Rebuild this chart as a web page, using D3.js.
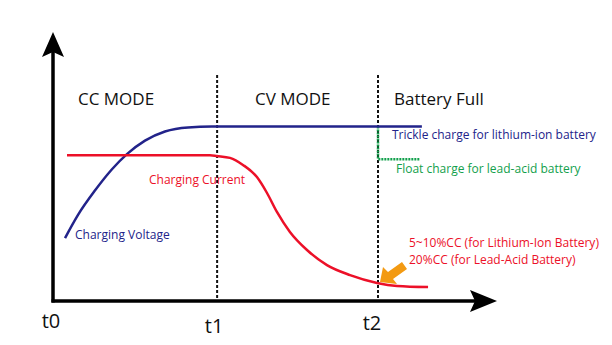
<!DOCTYPE html>
<html>
<head>
<meta charset="utf-8">
<script src="https://cdn.jsdelivr.net/npm/d3@7"></script>
<style>
  html, body { margin: 0; padding: 0; background: #fff; }
  svg { display: block; font-family: "Open Sans", "Noto Sans", sans-serif; }
</style>
</head>
<body>
<svg id="chart" width="612" height="345"></svg>
<script>
// Charging profile: time in arbitrary units (t1 ≈ 10, t2 = 20), level in % of full scale
const phaseTimes = [0, 10.1, 20];
const phaseTickLabels = ["t0", "t1", "t2"];
const modeLabels = ["CC MODE", "CV MODE", "Battery Full"];

const voltageTime  = [0.74, 1.54, 2.58, 3.63, 4.55, 5.66, 6.89, 8.31, 9.78, 12, 16, 20, 22.7];
const voltageLevel = [23.3, 31.9, 40.9, 48.8, 54.4, 59.4, 62.8, 64.3, 64.6, 64.6, 64.6, 64.6, 64.6];

const currentTime  = [0.86, 5, 9.66, 10.09, 10.89, 11.69, 12.55, 13.17, 13.78, 14.58, 15.63, 16.86, 18.28, 19.94, 21.17, 23.08];
const currentLevel = [54.0, 54.0, 54.0, 53.7, 53.0, 50.4, 45.9, 40.0, 33.0, 25.6, 18.9, 13.3, 9.6, 6.7, 5.6, 5.2];

const floatTime  = [20, 20, 22.6];
const floatLevel = [64.6, 52.5, 52.5];

const svg = d3.select("#chart");
const x = d3.scaleLinear().domain([0, 20]).range([53, 378]);
const y = d3.scaleLinear().domain([0, 100]).range([301, 31]);

const BLUE = "#22238a", RED = "#ec1028", GREEN = "#12a04c", ORANGE = "#f39a12";

// phase boundaries (dotted verticals)
svg.selectAll("line.phase")
  .data(phaseTimes.slice(1))
  .join("line")
  .attr("class", "phase")
  .attr("x1", d => x(d)).attr("x2", d => x(d))
  .attr("y1", 75).attr("y2", y(0))
  .attr("stroke", "#111").attr("stroke-width", 2)
  .attr("stroke-dasharray", "3,2");

// float charge step (green dotted)
svg.append("path")
  .datum(floatTime.map((t, i) => [t, floatLevel[i]]))
  .attr("d", d3.line().x(d => x(d[0])).y(d => y(d[1])))
  .attr("fill", "none").attr("stroke", GREEN).attr("stroke-width", 2.5)
  .attr("stroke-dasharray", "2,1");

// charging voltage
svg.append("path")
  .datum(voltageTime.map((t, i) => [t, voltageLevel[i]]))
  .attr("d", d3.line().x(d => x(d[0])).y(d => y(d[1])).curve(d3.curveMonotoneX))
  .attr("fill", "none").attr("stroke", BLUE).attr("stroke-width", 2.5);

// charging current
svg.append("path")
  .datum(currentTime.map((t, i) => [t, currentLevel[i]]))
  .attr("d", d3.line().x(d => x(d[0])).y(d => y(d[1])).curve(d3.curveMonotoneX))
  .attr("fill", "none").attr("stroke", RED).attr("stroke-width", 2.5);

// axes with arrowheads
const ax = svg.append("g");
ax.append("line").attr("x1", x(0)).attr("x2", x(0)).attr("y1", y(0) + 1.5).attr("y2", 50)
  .attr("stroke", "#000").attr("stroke-width", 3.5);
ax.append("line").attr("x1", x(0) - 1.5).attr("x2", 480).attr("y1", y(0)).attr("y2", y(0))
  .attr("stroke", "#000").attr("stroke-width", 3.5);
ax.append("path")
  .attr("d", `M${x(0)},32 L${x(0) + 11},57 L${x(0)},52 L${x(0) - 11},57 Z`)
  .attr("fill", "#000");
ax.append("path")
  .attr("d", `M497,${y(0)} L470,${y(0) - 11} L475,${y(0)} L470,${y(0) + 11} Z`)
  .attr("fill", "#000");

// tick labels under the time axis
const tickDx = [-2, -3, -6], tickY = [328, 333, 330];
svg.selectAll("text.tick")
  .data(phaseTimes)
  .join("text")
  .attr("class", "tick")
  .attr("x", (d, i) => x(d) + tickDx[i])
  .attr("y", (d, i) => tickY[i])
  .attr("text-anchor", "middle")
  .attr("font-size", 20)
  .attr("fill", "#111")
  .text((d, i) => phaseTickLabels[i]);

// mode headings
const modeX = [78, 255, 394];
svg.selectAll("text.mode")
  .data(modeLabels)
  .join("text")
  .attr("class", "mode")
  .attr("x", (d, i) => modeX[i])
  .attr("y", 105)
  .attr("font-size", 17)
  .attr("fill", "#111")
  .text(d => d);

// series annotations
const note = (tx, ty, str, color) =>
  svg.append("text").attr("x", tx).attr("y", ty).attr("font-size", 12)
    .attr("fill", color).text(str);
note(149, 184, "Charging Current", RED);
note(75, 239, "Charging Voltage", BLUE);
note(392, 139, "Trickle charge for lithium-ion battery", BLUE);
note(396, 173, "Float charge for lead-acid battery", GREEN);
note(409, 246.5, "5~10%CC (for Lithium-Ion Battery)", RED);
note(409, 263.5, "20%CC (for Lead-Acid Battery)", RED);

// orange pointer to the t2 current level
const tipX = x(20) + 2, tipY = y(6.7) - 1;
svg.append("path")
  .attr("d", `M${tipX},${tipY} L${tipX + 3},${tipY - 15} L${tipX + 8},${tipY - 10} L${tipX + 22},${tipY - 20} L${tipX + 27},${tipY - 13} L${tipX + 13},${tipY - 3} L${tipX + 17},${tipY + 2} Z`)
  .attr("fill", ORANGE);
</script>
</body>
</html>
